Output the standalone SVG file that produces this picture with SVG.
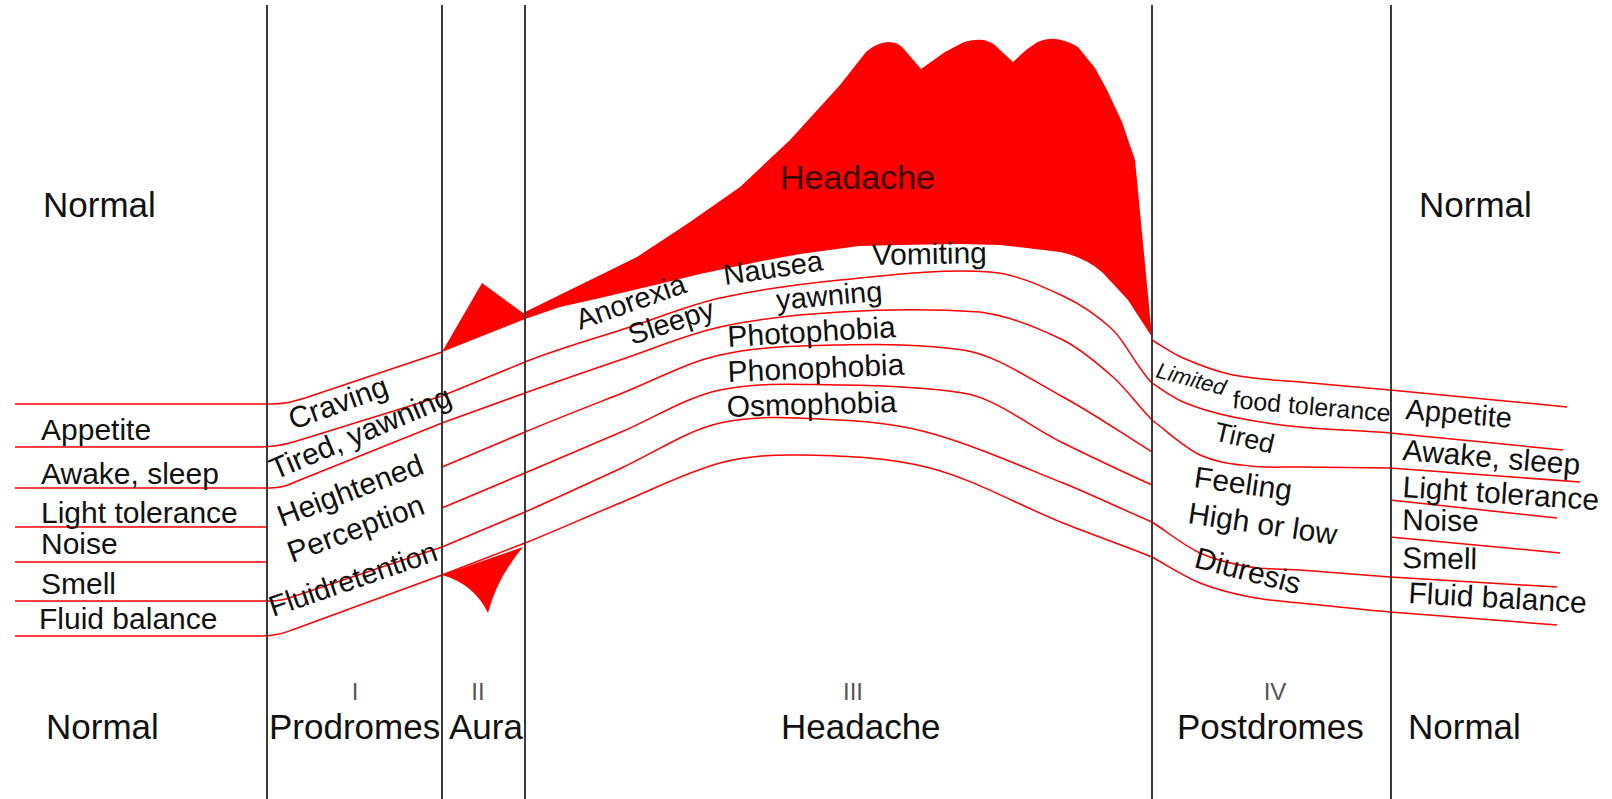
<svg xmlns="http://www.w3.org/2000/svg" width="1612" height="799" viewBox="0 0 1612 799">
<style>
.lbl{font-family:"Liberation Sans",Arial,Helvetica,sans-serif;font-size:30px;fill:#111}
.big{font-size:35px}
.rn{font-size:24px;fill:#555}
.curve{fill:none;stroke:#ff0000;stroke-width:1.5;stroke-linejoin:round}
.vline{stroke:#3a3a3a;stroke-width:2}
.red{fill:#ff0000;stroke:none}
</style>
<rect width="1612" height="799" fill="#ffffff"/>
<g id="connectors">
<path class="curve" d="M15,404 L270,404 C285,404 292,402 305,398 L442,352"/>
<path class="curve" d="M1152,340 C1162.3,346.2 1172.7,353.6 1183,358 C1199.7,365.2 1216.3,371.7 1233,375 C1255.3,379.5 1277.7,379.9 1300,382 L1390,390 L1567,407"/>
<path class="curve" d="M15,447 L255,447 C275,447 285,444.6 300,440 L442,396 L525,362 C560,348 595,338.6 630,327 C660,317.1 690,304.6 720,298 C760,289.2 800,284 840,280 C890,275 940,268.5 990,272 C1014.3,273.7 1038.7,284.6 1063,296 C1079.7,303.8 1096.3,314.3 1113,330 C1122,338.5 1131,355.8 1140,368 C1144,373.4 1148,379.4 1152,383 C1162.3,390.2 1172.7,397.7 1183,402 C1199.7,409 1216.3,413.5 1233,417 C1255.3,421.7 1277.7,424.8 1300,427 C1330,430 1360,430.4 1390,433 L1563,450"/>
<path class="curve" d="M15,488 L265,488 C280,488 285,486.5 295,482 L442,423 L525,393 C556.7,381.6 588.3,370.8 620,360 C653.3,348.7 686.7,334.3 720,327 C760,318.2 800,314.3 840,312 C886.7,309.3 933.3,309 980,312 C1007.7,315.5 1035.3,326.4 1063,340 C1079.7,348.2 1096.3,362.3 1113,377 C1126,388.4 1139,407 1152,420 C1168,432 1184,447.5 1200,455 C1216.7,462.8 1233.3,464 1250,466 C1266.7,468 1283.3,466.8 1300,467 L1390,468 L1580,482"/>
<path class="curve" d="M15,527 L266,527"/>
<path class="curve" d="M442,467 L525,432 C556.7,418.7 588.3,406.5 620,394 C653.3,380.8 686.7,362.3 720,355 C760,346.2 800,345.8 840,345 C881,344.2 922,343.9 963,350 C996.3,355 1029.7,379 1063,397 C1092.7,413 1122.3,433.6 1152,452"/>
<path class="curve" d="M1390,500 L1557,518"/>
<path class="curve" d="M15,562 L266,562"/>
<path class="curve" d="M442,508 L525,473 C556.7,459.7 588.3,446 620,432.5 C653.3,418.3 686.7,397 720,390 C760,381.6 800,384.5 840,385 C881,385.5 922,386.8 963,393 C996.3,398 1029.7,426.7 1063,443 C1092.7,457.6 1122.3,471.6 1152,485"/>
<path class="curve" d="M1390,537 L1560,553"/>
<path class="curve" d="M15,601 L268,601 C280,601 285,599.5 295,596 L442,547 L525,512 C556.7,498.1 588.3,483.2 620,468.7 C653.3,453.5 686.7,430.3 720,423 C760,414.2 800,418.1 840,420 C870,421.4 900,424.6 930,433 C974.3,445.4 1018.7,465.3 1063,483 C1092.7,494.9 1122.3,509.5 1152,522 C1168,532.4 1184,545.6 1200,553 C1216.7,560.7 1233.3,564.2 1250,567 C1266.7,569.8 1283.3,568.8 1300,570 L1390,577 L1557,587"/>
<path class="curve" d="M15,636 L262,636 C275,636 282,633.5 292,630 L442,575 L525,543 C556.7,530.3 588.3,516 620,503 C653.3,489.3 686.7,472 720,463 C746.7,455.8 773.3,454.4 800,455 C843.3,456 886.7,456.7 930,468 C974.3,479.5 1018.7,505.3 1063,523 C1092.7,534.9 1122.3,545.1 1152,557 C1168,565.8 1184,576.4 1200,583 C1216.7,589.8 1233.3,593.7 1250,597 C1266.7,600.3 1283.3,601.2 1300,603 C1330,606.2 1360,609.6 1390,612 L1557,625"/>
</g>
<g id="headache-shape">
<path class="red" d="M442,352 L482,283 L523,313 L580,285 L637,257 L690,222 L740,187 L790,140 L840,85 L866,52 Q876,43 888,42 Q898,42 903,48 L921,69 L945,52 L962,43 Q972,39 984,40 Q993,42 1000,50 L1013,62 L1026,50 L1036,43 Q1046,38 1056,39 Q1066,40 1078,47 L1095,68 L1107,90 L1122,122 L1135,160 L1152,337 L1128,300 L1103,273 Q1085,257 1060,252 L1000,245 L960,244 L900,245 L859,246 L800,254 L757,262 L700,274 L655,285 L600,298 L560,307 L525,319 Z"/>
</g>
<g id="aura-low">
<path class="red" d="M442,575 L523,547 Q497,578 488,613 Q474,584 442,575 Z"/>
</g>
<g id="dividers">
<line class="vline" x1="267" y1="5" x2="267" y2="799"/>
<line class="vline" x1="442" y1="5" x2="442" y2="799"/>
<line class="vline" x1="525" y1="5" x2="525" y2="799"/>
<line class="vline" x1="1152" y1="5" x2="1152" y2="799"/>
<line class="vline" x1="1391" y1="5" x2="1391" y2="799"/>
</g>
<g id="normal-left">
<text class="lbl big" x="43" y="217">Normal</text>
<text class="lbl" x="41" y="440">Appetite</text>
<text class="lbl" x="41" y="484">Awake, sleep</text>
<text class="lbl" x="41" y="523">Light tolerance</text>
<text class="lbl" x="41" y="554">Noise</text>
<text class="lbl" x="41" y="594">Smell</text>
<text class="lbl" x="39" y="629">Fluid balance</text>
<text class="lbl big" x="46" y="739">Normal</text>
</g>
<g id="prodromes">
<text class="lbl" transform="translate(293,430) rotate(-20)">Craving</text>
<text class="lbl" transform="translate(275,480) rotate(-23)" font-size="27.5">Tired, yawning</text>
<text class="lbl" transform="translate(282,527) rotate(-20.7)">Heightened</text>
<text class="lbl" transform="translate(292,563) rotate(-20.3)">Perception</text>
<text class="lbl" transform="translate(273,617) rotate(-19)" style="font-size:29px">Fluidretention</text>
<text class="rn lbl" x="355" y="700" text-anchor="middle">I</text>
<text class="lbl big" x="269" y="739">Prodromes</text>
</g>
<g id="aura">
<text class="rn lbl" x="478" y="700" text-anchor="middle">II</text>
<text class="lbl big" x="449" y="739">Aura</text>
</g>
<g id="headache">
<text class="lbl" x="780" y="189" style="font-size:34px;fill:#3a0000">Headache</text>
<text class="lbl" transform="translate(580,330) rotate(-19.4)" style="font-size:29px">Anorexia</text>
<text class="lbl" transform="translate(632,345) rotate(-18)" style="font-size:29px">Sleepy</text>
<text class="lbl" transform="translate(725,285) rotate(-8.5)" style="font-size:29px">Nausea</text>
<text class="lbl" transform="translate(872,265) rotate(-1)">Vomiting</text>
<text class="lbl" transform="translate(777,310) rotate(-5)" style="font-size:29px">yawning</text>
<text class="lbl" transform="translate(728,347) rotate(-3.4)">Photophobia</text>
<text class="lbl" transform="translate(728,382) rotate(-2.4)">Phonophobia</text>
<text class="lbl" transform="translate(727,417) rotate(-1.7)">Osmophobia</text>
<text class="rn lbl" x="853" y="700" text-anchor="middle">III</text>
<text class="lbl big" x="781" y="739">Headache</text>
</g>
<g id="postdromes">
<text class="lbl" transform="translate(1155,377) rotate(15)" style="font-size:22px;font-style:italic">Limited</text>
<text class="lbl" transform="translate(1232,408) rotate(5)" style="font-size:25px">food tolerance</text>
<text class="lbl" transform="translate(1213,440) rotate(13)" style="font-size:27px">Tired</text>
<text class="lbl" transform="translate(1193,487) rotate(8)">Feeling</text>
<text class="lbl" transform="translate(1187,523) rotate(8.4)">High or low</text>
<text class="lbl" transform="translate(1193,567) rotate(14.6)">Diuresis</text>
<text class="rn lbl" x="1275" y="700" text-anchor="middle">IV</text>
<text class="lbl big" x="1177" y="739">Postdromes</text>
</g>
<g id="normal-right">
<text class="lbl big" x="1419" y="217">Normal</text>
<text class="lbl" transform="translate(1405,419) rotate(4.8)" style="font-size:29px">Appetite</text>
<text class="lbl" transform="translate(1402,460) rotate(4.8)">Awake, sleep</text>
<text class="lbl" transform="translate(1402,497) rotate(3.8)">Light tolerance</text>
<text class="lbl" transform="translate(1402,530) rotate(1)">Noise</text>
<text class="lbl" transform="translate(1402,568) rotate(1)">Smell</text>
<text class="lbl" transform="translate(1408,603) rotate(3.2)">Fluid balance</text>
<text class="lbl big" x="1408" y="739">Normal</text>
</g>
</svg>
